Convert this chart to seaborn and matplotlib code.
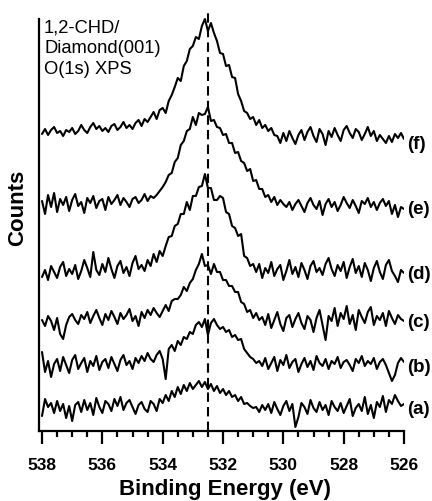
import numpy as np
import pandas as pd
import matplotlib
matplotlib.use("Agg")
import matplotlib.pyplot as plt
import matplotlib.transforms as mtransforms
from matplotlib.ticker import MultipleLocator
import seaborn as sns

# ---------------- data ----------------
energy_start = 538.0
energy_step = -0.1
n_points = 121

labels = ["(a)", "(b)", "(c)", "(d)", "(e)", "(f)"]
offsets = [22, 64, 109, 157, 222, 292]

spec_a = [-7, 10, 2, 6, -4, 8, -2, 5, -9, 3, -12, 4, 7, -3, 9, -1, 6, -6, 11, 2,
          -4, 8, 5, -2, 10, 3, 12, -1, 6, 9, 2, -5, 4, 7, 0, -3, 8, 5, -2,
          10, 6, 14, 8, 18, 12, 22, 15, 24, 18, 26, 20, 24, 28, 22, 27, 20, 25, 18, 23,
          16, 20, 14, 18, 12, 14, 8, 12, 5, 6, 3, 1,
          2, -3, 4, -1, 5, -4, 7, 0, -6, 3, 8, -2, 5, -18, -8, 6, 2, -5, 9, 1,
          -3, 7, -1, 4, -6, 8, 2, -2, 6, -4, 3, 10, -7, 1, 5, -2, 12, -5, 4, -9,
          7, 2, 13, -3, 9, 5, 14, 8, 3, 5]

spec_b = [15, -5, 6, -10, 3, 8, -4, 10, 2, -6, 7, 12, -2, 4, 9, -5, 6, 1, 11, -3,
          5, 8, -1, 10, 3, -4, 7, 12, 2, 6, -2, 9, 4, 11, 6, 14, 8,
          5, 12, 16, 8, -12, 18, 22, 16, 26, 22, 30, 28, 35, 33, 42, 45, 40, 48, 32, 44,
          48, 42, 38, 40, 35, 37, 30, 32, 27, 28, 18, 14, 10, 8, 4,
          6, 1, 9, -2, 4, 10, -4, 7, 2, 12, -1, 5, 8, -5, 3, 9, 0, 6, -3, 11,
          4, 1, 8, -2, 6, 3, 10, -1, 5, 7, 2, -4, 8, 4, 11, 1, 6, 3, 9, -2,
          5, 8, 2, -6, -14, -8, 4, 9, 5]

spec_c = [2, -4, 6, 1, -8, 4, -12, -17, -3, 5, 8, 2, -2, 7, 3, 10, -1, 6, 12, 4,
          -3, 8, 2, 11, 5, -2, 9, 3, 7, 13, 1, 6, -4, 10, 4, 12, 7, 14, 9, 5,
          11, 17, 11, 21, 23, 23, 27, 35, 31, 39, 43, 52, 58, 68, 56, 57, 48, 58, 50, 50,
          42, 42, 36, 36, 30, 30, 20, 18, 10, 12, 4, 9, 2,
          5, -3, 8, -6, 2, 10, -2, -9, 4, 7, -5, 3, 9, -1, -7, 6, 2, -10, 4, 12,
          -3, -18, 6, 1, 14, -4, 9, 3, 16, -2, 7, -8, 12, 5, -1, 10, 15, -3, 6, 2,
          9, -4, 11, 4, -2, 7, 3, 1]

spec_d = [-3, 4, -6, 8, 2, -4, 7, 12, -2, 5, 0, 9, -5, 3, 14, 6, -3, 22, 4, -1,
          10, 2, 16, 5, -4, 8, 13, 1, 7, -2, 11, 18, 5, 9, 3, 14,
          8, 20, 12, 23, 18,
          28, 37, 38, 48, 50, 60, 60, 72, 64, 78, 78, 87, 88, 100, 86, 86, 74, 74, 78, 76,
          62, 60, 48, 46, 38, 40, 18, 16, 8, 10,
          2, 10, -4, 6, 1, 12, -2, 5, 9, -6, 3, 14, 0, 7, -3, 11, 4, -5, 8, 13,
          2, 6, -1, 10, 16, 5, -2, 9, 3, 12, -4, 7, 15, 1, 8, -3, 11, 4, -7, 6,
          13, 2, -5, 9, 14, 3, -2, -8, 4, 1]

spec_e = [8, -5, 14, 2, 16, -3, 10, 4, 12, -2, 9, 15, 3, 7, -4, 11, 6, 13, 1, 8,
          10, -1, 12, 5, 9, 14, 4, 11, 7, 2, 10,
          12, 6, 9, 15, 8, 13, 11, 14, 18, 22,
          27, 34, 36, 47, 51, 64, 68, 78, 80, 92, 84, 96, 94, 95, 102, 88, 89, 82, 81, 74,
          75, 66, 66, 56, 57, 48, 46, 38, 40, 28, 29, 20, 20, 12, 14, 7, 12, 4, 9, 5,
          2, 7, -1, 5, 9, 3, -3, 6, 11, 4, 0, 8, -6, 5, 10, 2, 7, -2, 4, 12,
          6, 1, 9, 3, -4, 8, 5, 11, 2, 7, -1, 6, 10, 3, 8, -5, 4, -8, 2, 0]

spec_f = [5, 10, 4, 9, 12, 6, 8, 3, 9, 7, 11, 5, 8, 14, 9, 6, 12, 16, 10, 13, 8,
          11, 7, 13, 15, 9, 12, 17, 11, 14, 10,
          16, 19, 13, 20, 17,
          22, 27, 20, 29, 31, 26, 38, 44, 52, 61, 58, 73, 78, 90, 93, 102, 100, 113, 120, 108,
          116, 106, 98, 86, 85, 73, 74, 62, 61, 45, 38, 28, 26, 20, 22, 14, 19, 11, 14, 8,
          11, 4,
          3, -4, 6, -2, 8, 1, -5, 4, 9, -1, 7, 12, 3, -3, 10, 5, -6, 8, 2, 11,
          4, -2, 9, 13, 6, 1, 10, 7, -1, 5, 12, 3, 8, -2, 4, 0, -4, 3, -3, 5,
          1, 6, 0]

spectra = [spec_a, spec_b, spec_c, spec_d, spec_e, spec_f]
peak_position = 532.5

annotation = "1,2-CHD/\nDiamond(001)\nO(1s) XPS"
x_ticks = [538, 536, 534, 532, 530, 528, 526]

# ---------------- build frame ----------------
energy = energy_start + energy_step * np.arange(n_points)
rows = []
for lab, off, spec in zip(labels, offsets, spectra):
    vals = np.asarray(spec, dtype=float)
    assert len(vals) == n_points, (lab, len(vals))
    for e, v in zip(energy, vals):
        rows.append({"energy": e, "counts": v + off, "sample": lab})
df = pd.DataFrame(rows)

# ---------------- plot ----------------
sns.set_style("ticks")
plt.rcParams["font.family"] = ["Liberation Sans", "DejaVu Sans"]
plt.rcParams["text.color"] = "black"
plt.rcParams["axes.labelcolor"] = "black"
plt.rcParams["axes.edgecolor"] = "black"
plt.rcParams["xtick.color"] = "black"
plt.rcParams["ytick.color"] = "black"

W, H = 432, 502
fig = plt.figure(figsize=(W / 100, H / 100), dpi=100)
ax = fig.add_axes([39 / W, (H - 432) / H, 365 / W, 420 / H])

sns.lineplot(data=df, x="energy", y="counts", hue="sample",
             palette=["black"] * len(labels), legend=False,
             linewidth=1.5, ax=ax, estimator=None, sort=False)

ax.axvline(peak_position, color="black", linewidth=1.5,
           linestyle=(0, (4.5, 2.5)), zorder=0)

ax.set_xlim(538.1, 526.0)
ax.set_ylim(0, 420)

for s in ["top", "right"]:
    ax.spines[s].set_visible(False)
ax.spines["left"].set_linewidth(1.6)
ax.spines["bottom"].set_linewidth(1.6)
ax.spines["left"].set_bounds(0, 412)

ax.set_xticks(x_ticks)
ax.set_xticklabels([str(t) for t in x_ticks], fontsize=12.5, fontweight="bold")
ax.xaxis.set_minor_locator(MultipleLocator(0.5))
ax.tick_params(axis="x", which="major", direction="out", length=9.5, width=1.6, pad=9)
ax.tick_params(axis="x", which="minor", direction="out", length=4.5, width=1.6)
ax.set_yticks([])

ax.set_xlabel("Binding Energy (eV)", fontsize=16, fontweight="bold")
ax.xaxis.set_label_coords((225.5 - 39) / 365, (432 - 479) / 420)
ax.set_ylabel("Counts", fontsize=16, fontweight="bold")
ax.yaxis.set_label_coords((28 - 39) / 365, (432 - 208) / 420)

ax.text(0.014, 0.983, annotation, transform=ax.transAxes, fontsize=13.2,
        va="top", ha="left", linespacing=1.3)

trans = mtransforms.blended_transform_factory(ax.transAxes, ax.transData)
for lab, off in zip(labels, offsets):
    ax.text((407 - 39) / 365, off - (5 if lab == "(f)" else 0), lab,
            transform=trans, fontsize=13.5, fontweight="bold",
            va="center", ha="left", clip_on=False)

fig.savefig("out.png", dpi=100)
